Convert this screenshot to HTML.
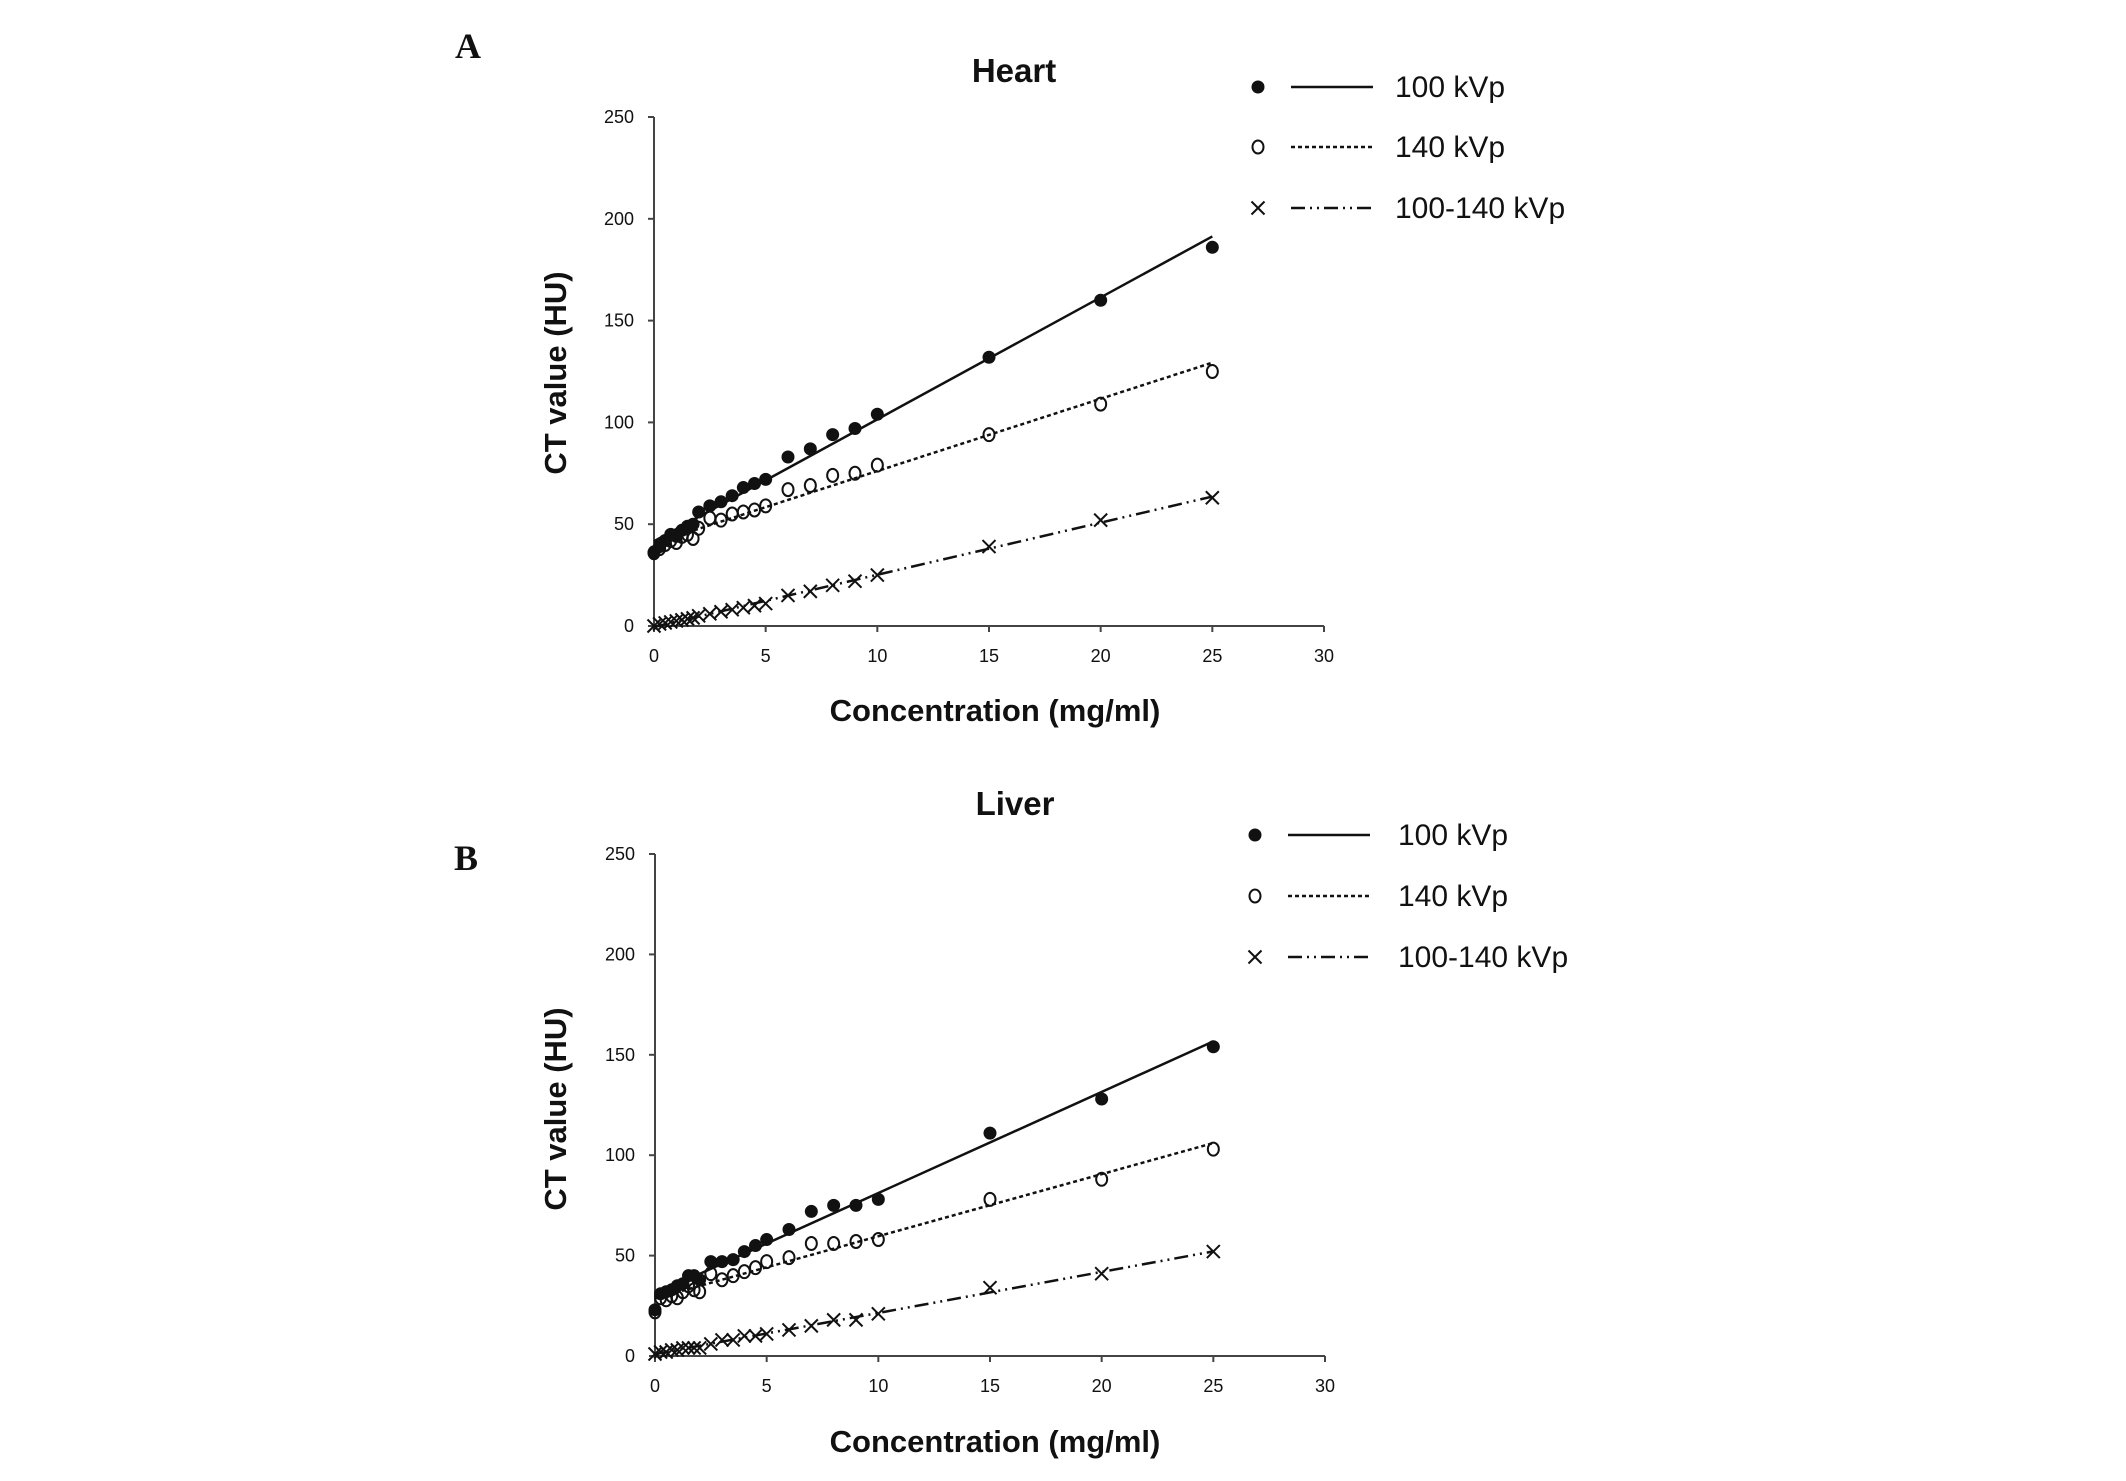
<!DOCTYPE html>
<html><head><meta charset="utf-8"><style>
html,body{margin:0;padding:0;background:#fff;}
svg{display:block;}
text{font-family:"Liberation Sans",Arial,sans-serif;fill:#111;}
</style></head>
<body>
<svg id="fig" width="2126" height="1481" viewBox="0 0 2126 1481">
<text x="468" y="58" font-weight="bold" font-size="36" text-anchor="middle" style="font-family:'Liberation Serif',serif">A</text>
<text x="466" y="870" font-weight="bold" font-size="36" text-anchor="middle" style="font-family:'Liberation Serif',serif">B</text>
</svg>
<script>
const xConc = [0,0.25,0.5,0.75,1,1.25,1.5,1.75,2,2.5,3,3.5,4,4.5,5,6,7,8,9,10,15,20,25];
const heart100 = [36,39,42,45,44,47,49,50,56,59,61,64,68,70,72,83,87,94,97,104,132,160,186];
const heart140 = [36,38,40,42,41,44,45,43,48,53,52,55,56,57,59,67,69,74,75,79,94,109,125];
const heartDiff = [0,1,1.5,2,2.5,3,3.5,4,5,6,7,8,9,10,11,15,17,20,22,25,39,52,63];
const liver100 = [23,31,32,33,35,36,40,40,38,47,47,48,52,55,58,63,72,75,75,78,111,128,154];
const liver140 = [22,29,28,30,29,32,35,33,32,41,38,40,42,44,47,49,56,56,57,58,78,88,103];
const liverDiff = [1,2,2,3,3,4,4,4,4,6,8,8,10,10,11,13,15,18,18,21,34,41,52];
const xTicks = [0,5,10,15,20,25,30];
const yTicks = [0,50,100,150,200,250];
const seriesNames = ['100 kVp','140 kVp','100-140 kVp'];

const NS='http://www.w3.org/2000/svg';
const svg=document.getElementById('fig');
function mk(tag,attrs,parent){const e=document.createElementNS(NS,tag);for(const k in attrs)e.setAttribute(k,attrs[k]);(parent||svg).appendChild(e);return e;}

function fit(xs,ys){const n=xs.length;let sx=0,sy=0,sxx=0,sxy=0;for(let i=0;i<n;i++){sx+=xs[i];sy+=ys[i];sxx+=xs[i]*xs[i];sxy+=xs[i]*ys[i];}const b=(n*sxy-sx*sy)/(n*sxx-sx*sx);return [(sy-b*sx)/n,b];}

function marker(g,type,cx,cy){
  let e;
  if(type===0){e=mk('circle',{cx:cx,cy:cy,r:6.5,fill:'#111'},g);}
  else if(type===1){e=mk('ellipse',{cx:cx,cy:cy,rx:5.5,ry:6.5,fill:'none',stroke:'#111','stroke-width':2},g);}
  else{e=mk('path',{d:`M${cx-6.5},${cy-6.5}L${cx+6.5},${cy+6.5}M${cx-6.5},${cy+6.5}L${cx+6.5},${cy-6.5}`,stroke:'#111','stroke-width':2,fill:'none'},g);}
  return e;
}
const dashes=['none','4,3','14,5,2,5,2,5'];

function panel(cfg){
  const g=mk('g',{});
  
  
  const X=v=>cfg.x0+(v/30)*(cfg.x1-cfg.x0);
  const Y=v=>cfg.y0-(v/250)*(cfg.y0-cfg.y1);
  const ax=mk('path',{d:`M${X(0)},${Y(250)}L${X(0)},${Y(0)}L${X(30)},${Y(0)}`,stroke:'#444','stroke-width':2,fill:'none'},g);
  
  
  xTicks.forEach(t=>{
    mk('line',{x1:X(t),x2:X(t),y1:Y(0),y2:Y(0)+6,stroke:'#444','stroke-width':2},g);
    const tx=mk('text',{x:X(t),y:Y(0)+36,'font-size':18,'text-anchor':'middle'},g);tx.textContent=t;
    
    
  });
  yTicks.forEach(t=>{
    mk('line',{x1:X(0)-6,x2:X(0),y1:Y(t),y2:Y(t),stroke:'#444','stroke-width':2},g);
    const tx=mk('text',{x:X(0)-20,y:Y(t)+6,'font-size':18,'text-anchor':'end'},g);tx.textContent=t;
    
    
  });
  const tt=mk('text',{x:cfg.titleX,y:cfg.titleY,'font-size':33,'font-weight':'bold','text-anchor':'middle'},g);tt.textContent=cfg.title;
  
  
  const xt=mk('text',{x:995,y:cfg.xTitleY,'font-size':31,'font-weight':'bold','text-anchor':'middle'},g);xt.textContent='Concentration (mg/ml)';
  
  
  const yt=mk('text',{x:0,y:0,'font-size':31,'font-weight':'bold','text-anchor':'middle',transform:`translate(566,${cfg.yTitleY}) rotate(-90)`},g);yt.textContent='CT value (HU)';
  
  
  cfg.series.forEach((ys,si)=>{
    const [a,b]=fit(xConc,ys);
    const ln=mk('line',{x1:X(0),y1:Y(a),x2:X(25),y2:Y(a+b*25),stroke:'#111','stroke-width':2.5,'stroke-dasharray':dashes[si]},g);
    
    
    ys.forEach((v,i)=>{
      const m=marker(g,si,X(xConc[i]),Y(v));
      
      
    });
    const ly=cfg.legY[si];
    const lg=mk('g',{},g);
    
    
    marker(lg,si,cfg.legX,ly);
    mk('line',{x1:cfg.legX+33,x2:cfg.legX+115,y1:ly,y2:ly,stroke:'#111','stroke-width':2.5,'stroke-dasharray':dashes[si]},lg);
    const lt=mk('text',{x:cfg.legX+cfg.textOff,y:ly+10,'font-size':30},lg);lt.textContent=seriesNames[si];
  });
}
panel({name:'heart',title:'Heart',x0:654,x1:1324,y0:626,y1:117,titleX:1014,titleY:82,xTitleY:721,yTitleY:373,textOff:137,
  series:[heart100,heart140,heartDiff],legX:1258,legY:[87,147,208]});
panel({name:'liver',title:'Liver',x0:655,x1:1325,y0:1356,y1:854,titleX:1015,titleY:815,xTitleY:1452,yTitleY:1109,textOff:143,
  series:[liver100,liver140,liverDiff],legX:1255,legY:[835,896,957]});
</script>
</body></html>
